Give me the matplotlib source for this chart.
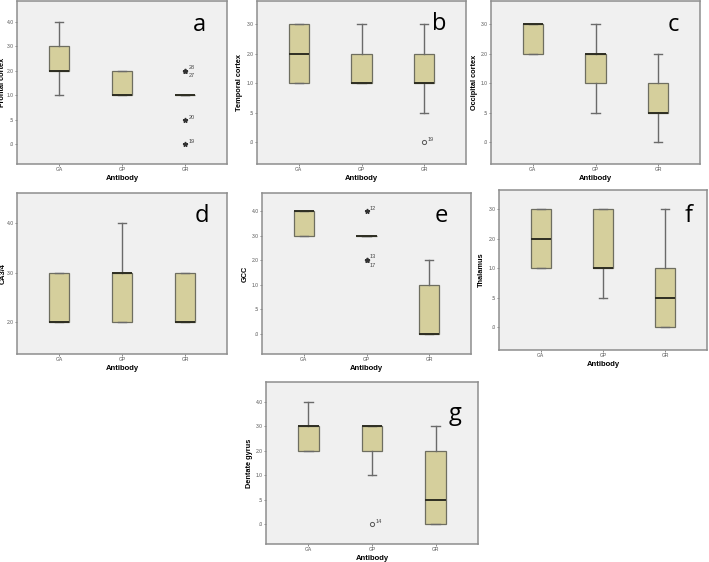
import matplotlib.pyplot as plt

plt.rcParams['font.family'] = ['Liberation Sans', 'DejaVu Sans']

# 1. Data
antibodies = ['GA', 'GP', 'GR']

# scores are plotted as equally spaced categories (SPSS ordinal scale)
score_levels = [0.0, 0.5, 1.0, 2.0, 3.0, 4.0]
score_labels = ['.0', '.5', '1.0', '2.0', '3.0', '4.0']

# each row: whisker low, Q1, median, Q3, whisker high  (GA, GP, GR)
frontal_boxes = [[1.0, 2.0, 2.0, 3.0, 4.0], [1.0, 1.0, 1.0, 2.0, 2.0], [1.0, 1.0, 1.0, 1.0, 1.0]]
temporal_boxes = [[1.0, 1.0, 2.0, 3.0, 3.0], [1.0, 1.0, 1.0, 2.0, 3.0], [0.5, 1.0, 1.0, 2.0, 3.0]]
occipital_boxes = [[2.0, 2.0, 3.0, 3.0, 3.0], [0.5, 1.0, 2.0, 2.0, 3.0], [0.0, 0.5, 0.5, 1.0, 2.0]]
ca_boxes = [[2.0, 2.0, 2.0, 3.0, 3.0], [2.0, 2.0, 3.0, 3.0, 4.0], [2.0, 2.0, 2.0, 3.0, 3.0]]
gcc_boxes = [[3.0, 3.0, 4.0, 4.0, 4.0], [3.0, 3.0, 3.0, 3.0, 3.0], [0.0, 0.0, 0.0, 1.0, 2.0]]
thalamus_boxes = [[1.0, 1.0, 2.0, 3.0, 3.0], [0.5, 1.0, 1.0, 3.0, 3.0], [0.0, 0.0, 0.5, 1.0, 3.0]]
dentate_boxes = [[2.0, 2.0, 3.0, 3.0, 4.0], [1.0, 2.0, 3.0, 3.0, 3.0], [0.0, 0.0, 0.5, 2.0, 3.0]]

# outliers: (antibody index, score, case number)
frontal_outliers = [(2, 2.0, '28'), (2, 2.0, '27'), (2, 0.5, '20'), (2, 0.0, '19')]
temporal_outliers = [(2, 0.0, '19')]
gcc_outliers = [(1, 4.0, '12'), (1, 2.0, '13'), (1, 2.0, '17')]
dentate_outliers = [(1, 0.0, '14')]

FILL = '#D5CF9C'
BG = '#F0F0F0'
EDGE = '#6E6E60'
W, H = 709, 562


def pos(v):
    return score_levels.index(v)


def dibujar_panel(fig, rect_px, boxes, outliers, marker, ylabel, letter,
                  tick_range, ylim, letter_xy, ylab_off):
    l, t, r, b = rect_px
    ax = fig.add_axes([l / W, 1 - b / H, (r - l) / W, (b - t) / H])
    ax.set_facecolor(BG)

    stats = []
    for i, (lo, q1, med, q3, hi) in enumerate(boxes):
        fl = [pos(v) for (k, v, _) in outliers if k == i]
        stats.append(dict(whislo=pos(lo), q1=pos(q1), med=pos(med), q3=pos(q3),
                          whishi=pos(hi), fliers=fl, label=antibodies[i]))

    if marker == '*':
        fprops = dict(marker='*', markersize=3.5, markerfacecolor='#333333',
                      markeredgecolor='#333333', linestyle='none')
    else:
        fprops = dict(marker='o', markersize=3, markerfacecolor='none',
                      markeredgecolor='#555555', markeredgewidth=0.7, linestyle='none')

    ax.bxp(stats, positions=[1, 2, 3], widths=0.32, patch_artist=True,
           showfliers=True,
           boxprops=dict(facecolor=FILL, edgecolor=EDGE, linewidth=0.9),
           medianprops=dict(color='#2E2E22', linewidth=1.4),
           whiskerprops=dict(color='#6A6A6A', linewidth=1.0),
           capprops=dict(color='#6A6A6A', linewidth=1.0),
           capwidths=0.13, flierprops=fprops)

    # case numbers beside the outliers
    seen = {}
    for k, v, case in outliers:
        n = seen.get((k, v), 0)
        seen[(k, v)] = n + 1
        same = sum(1 for (kk, vv, _) in outliers if kk == k and vv == v)
        dy = 2.5 if n == 0 else -3.5
        if same == 1:
            dy = 2.0
        ax.annotate(case, (k + 1, pos(v)), xytext=(2.5, dy), textcoords='offset points',
                    fontsize=4, color='#444444', va='center', ha='left')

    ticks = list(range(tick_range[0], tick_range[1] + 1))
    ax.set_yticks(ticks)
    ax.set_yticklabels([score_labels[i] for i in ticks])
    ax.set_ylim(*ylim)
    ax.set_xlim(1 / 3, 3 + 2 / 3)

    ax.tick_params(axis='both', labelsize=3.6, length=1.5, width=0.6,
                   colors='#777777', labelcolor='#555555', pad=1.0)
    for s in ax.spines.values():
        s.set_color('#8E8E8E')
        s.set_linewidth(1.1)

    ax.set_xlabel('Antibody', fontsize=5.5, fontweight='bold')
    ax.xaxis.set_label_coords(0.5, -11 / (b - t))
    ax.set_ylabel(ylabel, fontsize=5.3, fontweight='bold')
    ax.yaxis.set_label_coords(-ylab_off / (r - l), 0.5)
    ax.text(letter_xy[0], letter_xy[1], letter, transform=ax.transAxes,
            fontsize=17, family=['Open Sans', 'DejaVu Sans'],
            ha='center', va='center', color='black')
    return ax


def generar_figura():
    fig = plt.figure(figsize=(7.09, 5.62), dpi=100)

    # 2. Panels (pixel rectangles: left, top, right, bottom)
    dibujar_panel(fig, (17, 1, 227, 164), frontal_boxes, frontal_outliers, '*',
                  'Frontal cortex', 'a', (0, 5), (-0.8, 5.85), (0.87, 0.85), 10.5)
    dibujar_panel(fig, (257, 1, 466, 164), temporal_boxes, temporal_outliers, 'o',
                  'Temporal cortex', 'b', (0, 4), (-0.75, 4.8), (0.87, 0.86), 14)
    dibujar_panel(fig, (491, 1, 700, 164), occipital_boxes, [], 'o',
                  'Occipital cortex', 'c', (0, 4), (-0.75, 4.8), (0.87, 0.85), 13)
    dibujar_panel(fig, (17, 193, 227, 354), ca_boxes, [], 'o',
                  'CA3/4', 'd', (3, 5), (2.35, 5.61), (0.88, 0.86), 10.5)
    dibujar_panel(fig, (262, 193, 471, 354), gcc_boxes, gcc_outliers, '*',
                  'GCC', 'e', (0, 5), (-0.81, 5.73), (0.86, 0.86), 13)
    dibujar_panel(fig, (499, 190, 707, 350), thalamus_boxes, [], 'o',
                  'Thalamus', 'f', (0, 4), (-0.77, 4.65), (0.91, 0.84), 14)
    dibujar_panel(fig, (266, 382, 478, 544), dentate_boxes, dentate_outliers, 'o',
                  'Dentate gyrus', 'g', (0, 5), (-0.8, 5.8), (0.89, 0.8), 13)

    # 3. Export
    fig.savefig('out.png', dpi=100)
    plt.close(fig)


if __name__ == '__main__':
    generar_figura()
